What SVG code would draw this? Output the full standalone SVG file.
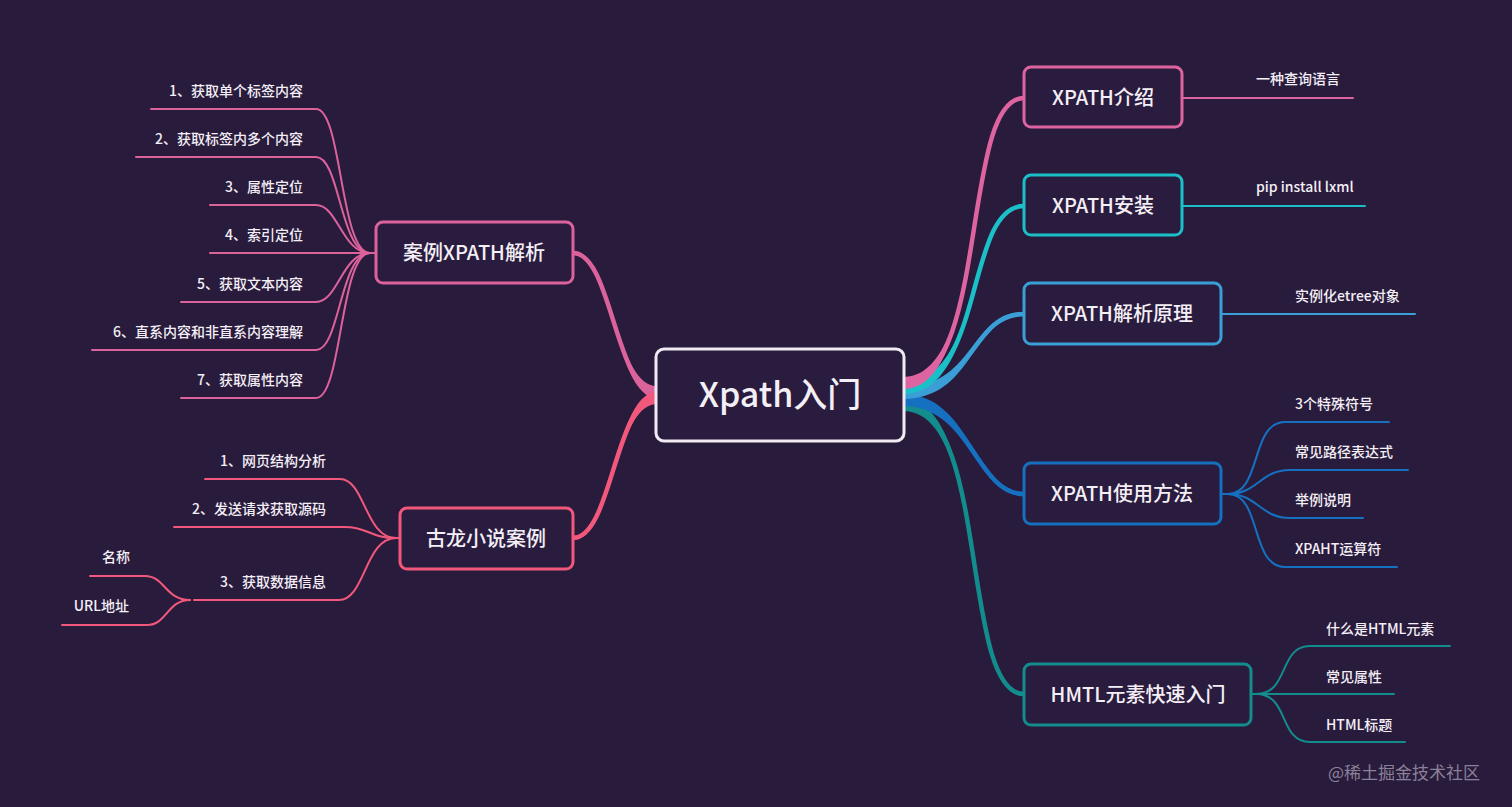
<svg xmlns="http://www.w3.org/2000/svg" width="1512" height="807" viewBox="0 0 1512 807">
<style>
.bg{fill:#291b3c}
.box{fill:#2a1c3e;stroke-width:3}
.t1{font-family:"Noto Sans CJK SC","Noto Sans",sans-serif;font-weight:500;font-size:20px;fill:#f4eff6;text-anchor:middle}
.t0{font-family:"Noto Sans CJK SC","Noto Sans",sans-serif;font-weight:500;font-size:34px;fill:#f4eff6;text-anchor:middle}
.lf{font-family:"Noto Sans CJK SC","Noto Sans",sans-serif;font-weight:500;font-size:14px;fill:#f4eff6}
.r{text-anchor:end}
.ln{fill:none;stroke-width:2;stroke-linecap:round}
.mn{fill:none;stroke-width:4.5;stroke-linecap:round}
.wm{font-family:"Noto Sans CJK SC","Noto Sans",sans-serif;font-size:17px;fill:#8b8198}
</style>
<rect class="bg" x="0" y="0" width="1512" height="807"/>
<g id="connectors">
  <!-- main left -->
  <path fill="#dc629c" d="M657,386 C615,386 612,251 573,251 L573,255 C612,255 615,398 657,398 Z"/>
  <path class="mn" stroke="#dc629c" d="M657,392 C615,392 612,253 573,253"/>
  <path fill="#f2587c" d="M657,392 C615,392 612,536 573,536 L573,540 C612,540 615,404 657,404 Z"/>
  <path class="mn" stroke="#f2587c" d="M657,398 C615,398 612,538 573,538"/>
  <!-- main right -->
  <path fill="#138c8d" d="M903,399 C990,399 960,692 1024,692 L1024,696 C960,696 990,411 903,411 Z"/>
  <path class="mn" stroke="#138c8d" d="M903,405 C990,405 960,694 1024,694"/>
  <path fill="#1670c0" d="M903,394 C970,394 975,492 1024,492 L1024,496 C975,496 970,406 903,406 Z"/>
  <path class="mn" stroke="#1670c0" d="M903,400 C970,400 975,494 1024,494"/>
  <path fill="#3a9fd6" d="M903,387 C975,387 970,312 1024,312 L1024,316 C970,316 975,399 903,399 Z"/>
  <path class="mn" stroke="#3a9fd6" d="M903,393 C975,393 970,314 1024,314"/>
  <path fill="#1bbfc7" d="M903,382 C985,382 965,204 1024,204 L1024,208 C965,208 985,394 903,394 Z"/>
  <path class="mn" stroke="#1bbfc7" d="M903,388 C985,388 965,206 1024,206"/>
  <path fill="#dd64a0" d="M903,377 C990,377 960,96 1024,96 L1024,100 C960,100 990,389 903,389 Z"/>
  <path class="mn" stroke="#dd64a0" d="M903,383 C990,383 960,98 1024,98"/>
  <!-- right leaves -->
  <path class="ln" stroke="#dd64a0" d="M1182,98 L1353,98"/>
  <path class="ln" stroke="#1bbfc7" d="M1182,206 L1365,206"/>
  <path class="ln" stroke="#3a9fd6" d="M1221,314 L1415,314"/>
  <g stroke="#1670c0" class="ln">
    <path d="M1221,494 L1230,494"/>
    <path d="M1228,494 C1262,494 1250,422 1285,422 L1389,422"/>
    <path d="M1228,494 C1258,494 1260,470 1290,470 L1408,470"/>
    <path d="M1228,494 C1258,494 1260,518 1290,518 L1363,518"/>
    <path d="M1228,494 C1262,494 1250,567 1285,567 L1397,567"/>
  </g>
  <g stroke="#138c8d" class="ln">
    <path d="M1251,694 L1258,694"/>
    <path d="M1256,694 C1290,694 1278,646 1310,646 L1450,646"/>
    <path d="M1256,694 L1394,694"/>
    <path d="M1256,694 C1290,694 1278,742 1310,742 L1405,742"/>
  </g>
  <!-- left leaves 案例 -->
  <g stroke="#dc629c" class="ln">
    <path d="M376,253 L368,253"/>
    <path d="M151,109 L316,109 C342,109 340,253 370,253"/>
    <path d="M136,157 L316,157 C340,157 340,253 370,253"/>
    <path d="M210,205 L316,205 C338,205 342,253 370,253"/>
    <path d="M210,253 L370,253"/>
    <path d="M181,302 L316,302 C338,302 342,253 370,253"/>
    <path d="M92,350 L316,350 C340,350 340,253 370,253"/>
    <path d="M181,398 L316,398 C342,398 340,253 370,253"/>
  </g>
  <!-- left leaves 古龙 -->
  <g stroke="#f2587c" class="ln">
    <path d="M400,538 L394,538"/>
    <path d="M205,479 L340,479 C365,479 365,538 396,538"/>
    <path d="M174,527 L345,527 C368,527 370,538 396,538"/>
    <path d="M194,600 L339,600 C365,600 365,538 396,538"/>
    <path d="M90,576 L145,576 C165,576 165,600 190,600"/>
    <path d="M62,625 L147,625 C167,625 167,600 190,600"/>
  </g>
</g>
<g id="center">
  <rect class="box" x="656" y="349" width="248" height="92" rx="8" stroke="#f1eaf2"/>
  <text class="t0" x="780" y="407">Xpath入门</text>
</g>
<g id="n-intro">
  <rect class="box" x="1024" y="67" width="158" height="60" rx="7" stroke="#dd64a0"/>
  <text class="t1" x="1103" y="105">XPATH介绍</text>
</g>
<g id="n-intro-leaf"><text class="lf" x="1256" y="84">一种查询语言</text></g>
<g id="n-install">
  <rect class="box" x="1024" y="175" width="158" height="60" rx="7" stroke="#1bbfc7"/>
  <text class="t1" x="1103" y="213">XPATH安装</text>
</g>
<g id="n-install-leaf"><text class="lf" x="1256" y="192">pip install lxml</text></g>
<g id="n-parse">
  <rect class="box" x="1024" y="283" width="197" height="61" rx="7" stroke="#3a9fd6"/>
  <text class="t1" x="1122" y="321">XPATH解析原理</text>
</g>
<g id="n-parse-leaf"><text class="lf" x="1295" y="301">实例化etree对象</text></g>
<g id="n-usage">
  <rect class="box" x="1024" y="463" width="197" height="61" rx="7" stroke="#1670c0"/>
  <text class="t1" x="1122" y="501">XPATH使用方法</text>
</g>
<g id="n-usage-leaves">
  <text class="lf" x="1295" y="409">3个特殊符号</text>
  <text class="lf" x="1295" y="457">常见路径表达式</text>
  <text class="lf" x="1295" y="505">举例说明</text>
  <text class="lf" x="1295" y="554">XPAHT运算符</text>
</g>
<g id="n-html">
  <rect class="box" x="1024" y="664" width="227" height="61" rx="7" stroke="#138c8d"/>
  <text class="t1" x="1138" y="702">HMTL元素快速入门</text>
</g>
<g id="n-html-leaves">
  <text class="lf" x="1326" y="634">什么是HTML元素</text>
  <text class="lf" x="1326" y="682">常见属性</text>
  <text class="lf" x="1326" y="730">HTML标题</text>
</g>
<g id="n-case">
  <rect class="box" x="376" y="222" width="197" height="61" rx="7" stroke="#dc629c"/>
  <text class="t1" x="474" y="260">案例XPATH解析</text>
</g>
<g id="n-case-leaves">
  <text class="lf r" x="303" y="96">1、获取单个标签内容</text>
  <text class="lf r" x="303" y="144">2、获取标签内多个内容</text>
  <text class="lf r" x="303" y="192">3、属性定位</text>
  <text class="lf r" x="303" y="240">4、索引定位</text>
  <text class="lf r" x="303" y="289">5、获取文本内容</text>
  <text class="lf r" x="303" y="337">6、直系内容和非直系内容理解</text>
  <text class="lf r" x="303" y="385">7、获取属性内容</text>
</g>
<g id="n-gulong">
  <rect class="box" x="400" y="508" width="173" height="61" rx="7" stroke="#f2587c"/>
  <text class="t1" x="486" y="546">古龙小说案例</text>
</g>
<g id="n-gulong-leaves">
  <text class="lf r" x="326" y="466">1、网页结构分析</text>
  <text class="lf r" x="326" y="514">2、发送请求获取源码</text>
  <text class="lf r" x="326" y="587">3、获取数据信息</text>
  <text class="lf r" x="130" y="562">名称</text>
  <text class="lf r" x="129" y="611">URL地址</text>
</g>
<text class="wm" x="1328" y="779">@稀土掘金技术社区</text>
</svg>
